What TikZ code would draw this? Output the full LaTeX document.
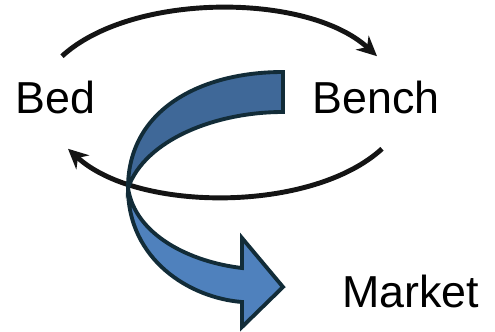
\documentclass[tikz,border=0pt]{standalone}
\usepackage{fontspec}
\setmainfont{Liberation Sans}
\usepackage{xcolor}
\usepackage{tikz}
\usetikzlibrary{positioning,calc,arrows.meta}

\definecolor{ribbontop}{RGB}{63,104,152}
\definecolor{ribbonlow}{RGB}{79,129,189}
\definecolor{ribbonedge}{RGB}{18,44,56}

\begin{document}
\begin{tikzpicture}[x=0.02cm, y=-0.02cm,
        site/.style={inner sep=0pt, font=\fontsize{25.5}{30}\selectfont, anchor=base},
        swing/.style={line width=2.8pt, draw=black!92, -{Stealth[length=4mm,width=3.8mm]}},
        ribbon/.style={draw=ribbonedge, line width=2.2pt, line join=miter}
    ]
        \useasboundingbox (0,0) rectangle (495,332);

        \node [site] (bed) at (55.5,113) {Bed};
        \node [site] (bench) at (376,113) {Bench};
        \node [site, anchor=base west] (market) at (342,307) {Market};

        \draw [swing] ([xshift=0.13cm, yshift=0.48cm]bed.north)
            .. controls +(69.7,-64) and +(-69.7,-64) .. ([xshift=0.02cm, yshift=0.48cm]bench.north);
        \draw [swing] ([xshift=0.12cm, yshift=-0.7cm]bench.south)
            .. controls +(-69.7,64) and +(69.7,64) .. ([xshift=0.25cm, yshift=-0.7cm]bed.south);

        % twisted ribbon down to the market
        \filldraw [ribbon, fill=ribbontop] (283,72) .. controls (200,72) and (128,110) .. (128,188)
            .. controls (145,140) and (215,112) .. (283,112) -- cycle;
        \filldraw [ribbon, fill=ribbonlow] (128,188) .. controls (128,260) and (190,298) .. (242,302)
            -- (242,327) -- (283,287) -- (242,238) -- (242,268)
            .. controls (190,262) and (135,235) .. (128,188) -- cycle;
    \end{tikzpicture}
\end{document}
